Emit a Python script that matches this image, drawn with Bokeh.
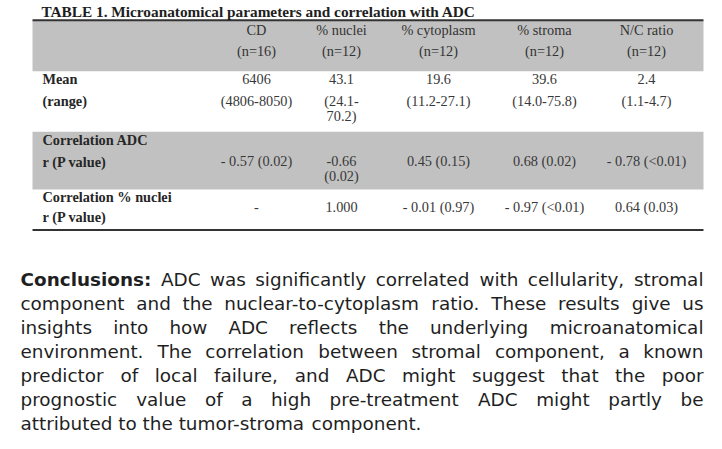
from bokeh.plotting import figure
from bokeh.models import Range1d, ColumnDataSource
from bokeh.core.properties import value
from bokeh.embed import file_html
from bokeh.resources import INLINE

# ---------------- data ----------------
TITLE = "TABLE 1. Microanatomical parameters and correlation with ADC"
columns = ["CD", "% nuclei", "% cytoplasm", "% stroma", "N/C ratio"]
n_values = ["(n=16)", "(n=12)", "(n=12)", "(n=12)", "(n=12)"]
means = ["6406", "43.1", "19.6", "39.6", "2.4"]
ranges = ["(4806-8050)", "(24.1-70.2)", "(11.2-27.1)", "(14.0-75.8)", "(1.1-4.7)"]
corr_adc = ["- 0.57 (0.02)", "-0.66 (0.02)", "0.45 (0.15)", "0.68 (0.02)", "- 0.78 (<0.01)"]
corr_nuclei = ["-", "1.000", "- 0.01 (0.97)", "- 0.97 (<0.01)", "0.64 (0.03)"]
row_labels = [["Mean", "(range)"],
              ["Correlation ADC", "r  (P value)"],
              ["Correlation % nuclei", "r (P value)"]]
narrow_column = "% nuclei"

CONCLUSION_LEAD = "Conclusions:"
CONCLUSION_LINES = [
    "Conclusions: ADC was significantly correlated with cellularity, stromal",
    "component and the nuclear-to-cytoplasm ratio. These results give us",
    "insights into how ADC reflects the underlying microanatomical",
    "environment. The correlation between stromal component, a known",
    "predictor of local failure, and ADC might suggest that the poor",
    "prognostic value of a high pre-treatment ADC might partly be",
    "attributed to the tumor-stroma component.",
]

# ---------------- layout ----------------
W, H = 706, 433
p = figure(width=W, height=H, output_backend="svg", toolbar_location=None,
           title=None,
           x_range=Range1d(0, W), y_range=Range1d(452.4, 2.6),
           x_axis_location=None, y_axis_location=None, min_border=0,
           background_fill_color="white", border_fill_color="white")
p.outline_line_color = None
p.grid.visible = False

TL, TR = 32, 703
col_x = [256, 341, 438, 544, 646]
GRAY = "#c1c1c1"

# shaded bands
p.quad(left=[TL, TL], right=[TR, TR], top=[24, 139], bottom=[76, 199],
       fill_color=GRAY, line_color=None)
# rules
p.segment(x0=[TL, TL], x1=[TR, TR], y0=[23, 241], y1=[23, 241],
          line_color="#333333", line_width=2)

SERIF = value("Liberation Serif")
FS = "14.3px"

# title
p.text(x=[41], y=[14], text=[TITLE], text_font=SERIF, text_font_size="15.3px",
       text_font_style="bold", text_color="#1e1e1e", text_baseline="alphabetic")

# header
hx, hy, ht = [], [], []
for cx, c, n in zip(col_x, columns, n_values):
    hx += [cx, cx]; hy += [33, 55]; ht += [c, n]
p.text(x=hx, y=hy, text=ht, text_font=SERIF, text_font_size=FS,
       text_color="#333333", text_align="center", text_baseline="middle")

# row labels
label_y = [[84, 107], [148, 170], [207, 227]]
lx, ly, lt = [], [], []
for labs, ys in zip(row_labels, label_y):
    for t, y in zip(labs, ys):
        lx.append(42); ly.append(y); lt.append(t)
p.text(x=lx, y=ly, text=lt, text_font=SERIF, text_font_size=FS,
       text_font_style="bold", text_color="#262626", text_align="left",
       text_baseline="middle")


def wrap(s):
    if " " in s:
        i = s.rfind(" ")
        return [s[:i], s[i + 1:]]
    j = s.find("-", 1)
    if j > 0:
        return [s[:j + 1], s[j + 1:]]
    return [s]


vx, vy, vt = [], [], []
rows = [(means, 84), (ranges, 107), (corr_adc, 169), (corr_nuclei, 217)]
for vals, y in rows:
    for cx, c, s in zip(col_x, columns, vals):
        parts = wrap(s) if (c == narrow_column and len(s) > 6) else [s]
        for k, part in enumerate(parts):
            vx.append(cx); vy.append(y + 16 * k); vt.append(part)
p.text(x=vx, y=vy, text=vt, text_font=SERIF, text_font_size=FS,
       text_color="#383838", text_align="center", text_baseline="middle")

# ---------------- justified paragraph ----------------
REG = {' ': 651, ',': 651, '.': 651, '-': 739, ':': 690, 'A': 1401, 'C': 1430,
       'D': 1577, 'T': 1251, 'a': 1255, 'b': 1300, 'c': 1126, 'd': 1300,
       'e': 1260, 'f': 721, 'g': 1300, 'h': 1298, 'i': 569, 'j': 569,
       'k': 1186, 'l': 569, 'm': 1995, 'n': 1298, 'o': 1253, 'p': 1300,
       'q': 1300, 'r': 842, 's': 1067, 't': 803, 'u': 1298, 'v': 1212,
       'w': 1675, 'x': 1212, 'y': 1212, 'z': 1075}
BOLD = {'C': 1532, 'o': 1407, 'n': 1458, 'c': 1216, 'l': 702, 'u': 1458,
        's': 1219, 'i': 702, ':': 819}
PFS = 18.4


def width(word, bold=False):
    tot = 0
    for ch in word:
        if bold:
            tot += BOLD.get(ch, REG.get(ch, 1250) * 1.1)
        else:
            tot += REG.get(ch, 1250)
    return tot / 2048 * PFS


PL, PR = 20, 703
nx, ny, nt, al = [], [], [], []
bx, by, bt = [], [], []
for li, line in enumerate(CONCLUSION_LINES):
    y = 292 + 25 * li
    words = line.split(" ")
    bolds = [w == CONCLUSION_LEAD and li == 0 for w in words]
    ws = [width(w, b) for w, b in zip(words, bolds)]
    last = li == len(CONCLUSION_LINES) - 1
    gap = width(" ") if last else (PR - PL - sum(ws)) / (len(words) - 1)
    x = PL
    for k, (w, b, ww) in enumerate(zip(words, bolds, ws)):
        if b:
            bx.append(x); by.append(y); bt.append(w)
        elif (not last) and k == len(words) - 1:
            nx.append(PR); ny.append(y); nt.append(w); al.append("right")
        else:
            nx.append(x); ny.append(y); nt.append(w); al.append("left")
        x += ww + gap

src = ColumnDataSource(dict(x=nx, y=ny, text=nt, align=al))
p.text(x="x", y="y", text="text", text_align="align", source=src,
       text_font=value("DejaVu Sans"), text_font_size="18.4px",
       text_color="#1f1f1f", text_baseline="alphabetic")
p.text(x=bx, y=by, text=bt, text_font=value("DejaVu Sans"),
       text_font_size="18.4px", text_font_style="bold", text_color="#1f1f1f",
       text_baseline="alphabetic")

open("out.html", "w").write(file_html(p, INLINE))
